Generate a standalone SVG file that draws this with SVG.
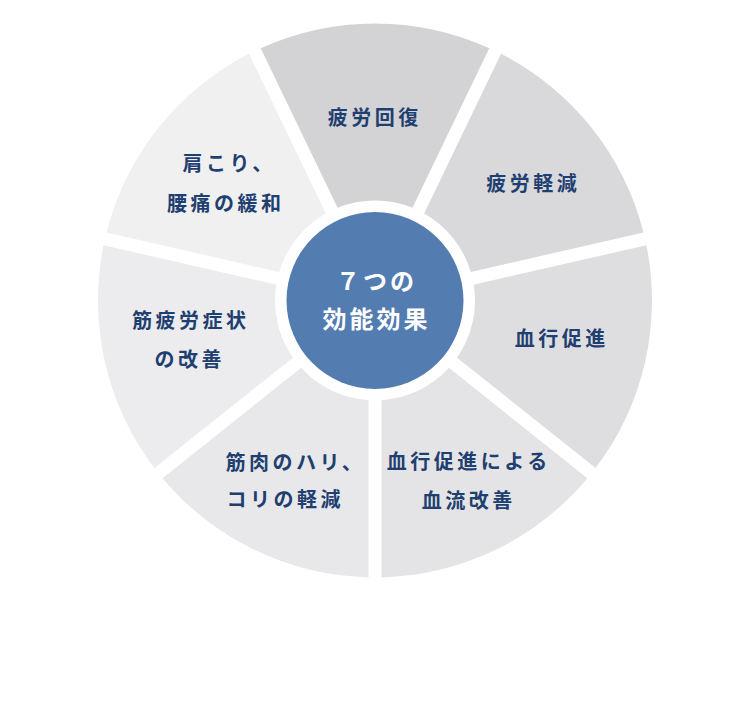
<svg xmlns="http://www.w3.org/2000/svg" width="750" height="708" viewBox="0 0 750 708">
<style>
.lbl{font-family:"Noto Sans CJK JP","Noto Sans",sans-serif;font-weight:bold;font-size:20px;letter-spacing:3.5px;fill:#1f3f70;}
.mid{text-anchor:middle;}
.ctr{font-family:"Noto Sans CJK JP","Noto Sans",sans-serif;font-weight:bold;font-size:24px;letter-spacing:3px;fill:#ffffff;text-anchor:middle;}
</style>
<rect x="0" y="0" width="750" height="708" fill="#ffffff"/>
<g id="seg-hirou-kaifuku">
<path transform="translate(375 300.5)" fill="#d3d3d5" d="M-114.297,-252.320 A277,277 0 0 1 114.297,-252.320 L37.441,-92.727 A100,100 0 0 0 -37.441,-92.727 Z"/>
<text class="lbl mid" x="374.7" y="124.5">疲労回復</text>
</g>
<g id="seg-hirou-keigen">
<path transform="translate(375 300.5)" fill="#d9d9db" d="M126.009,-246.680 A277,277 0 0 1 268.535,-67.958 L95.841,-28.542 A100,100 0 0 0 49.153,-87.087 Z"/>
<text class="lbl mid" x="533.2" y="191">疲労軽減</text>
</g>
<g id="seg-kekkou-sokushin">
<path transform="translate(375 300.5)" fill="#dedee0" d="M271.427,-55.284 A277,277 0 0 1 220.561,167.578 L82.071,57.135 A100,100 0 0 0 98.733,-15.868 Z"/>
<text class="lbl mid" x="561.7" y="346">血行促進</text>
</g>
<g id="seg-ketsuryuu-kaizen">
<path transform="translate(375 300.5)" fill="#e4e4e6" d="M212.455,177.742 A277,277 0 0 1 6.5,276.924 L6.5,99.789 A100,100 0 0 0 73.965,67.299 Z"/>
<text class="lbl mid" x="468.7" y="468.5">血行促進による</text>
<text class="lbl mid" x="468.7" y="508">血流改善</text>
</g>
<g id="seg-kinniku-hari">
<path transform="translate(375 300.5)" fill="#e8e8ea" d="M-6.5,276.924 A277,277 0 0 1 -212.455,177.742 L-73.965,67.299 A100,100 0 0 0 -6.5,99.789 Z"/>
<text class="lbl" x="225.5" y="469.5">筋肉のハリ、</text>
<text class="lbl" x="226.5" y="507">コリの軽減</text>
</g>
<g id="seg-kinhirou">
<path transform="translate(375 300.5)" fill="#ececee" d="M-220.561,167.578 A277,277 0 0 1 -271.427,-55.284 L-98.733,-15.868 A100,100 0 0 0 -82.071,57.135 Z"/>
<text class="lbl mid" x="190.7" y="327.5">筋疲労症状</text>
<text class="lbl mid" x="189.7" y="367">の改善</text>
</g>
<g id="seg-katakori">
<path transform="translate(375 300.5)" fill="#f0f0f1" d="M-268.535,-67.958 A277,277 0 0 1 -126.009,-246.680 L-49.153,-87.087 A100,100 0 0 0 -95.841,-28.542 Z"/>
<text class="lbl" x="182.5" y="171">肩こり、</text>
<text class="lbl mid" x="225.7" y="211">腰痛の緩和</text>
</g>
<g id="center">
<circle cx="375" cy="300.5" r="88.5" fill="#537cb1"/>
<text class="ctr" x="376.5" y="290">７つの</text>
<text class="ctr" x="376.5" y="328">効能効果</text>
</g>
<g id="connectors"></g>
</svg>
